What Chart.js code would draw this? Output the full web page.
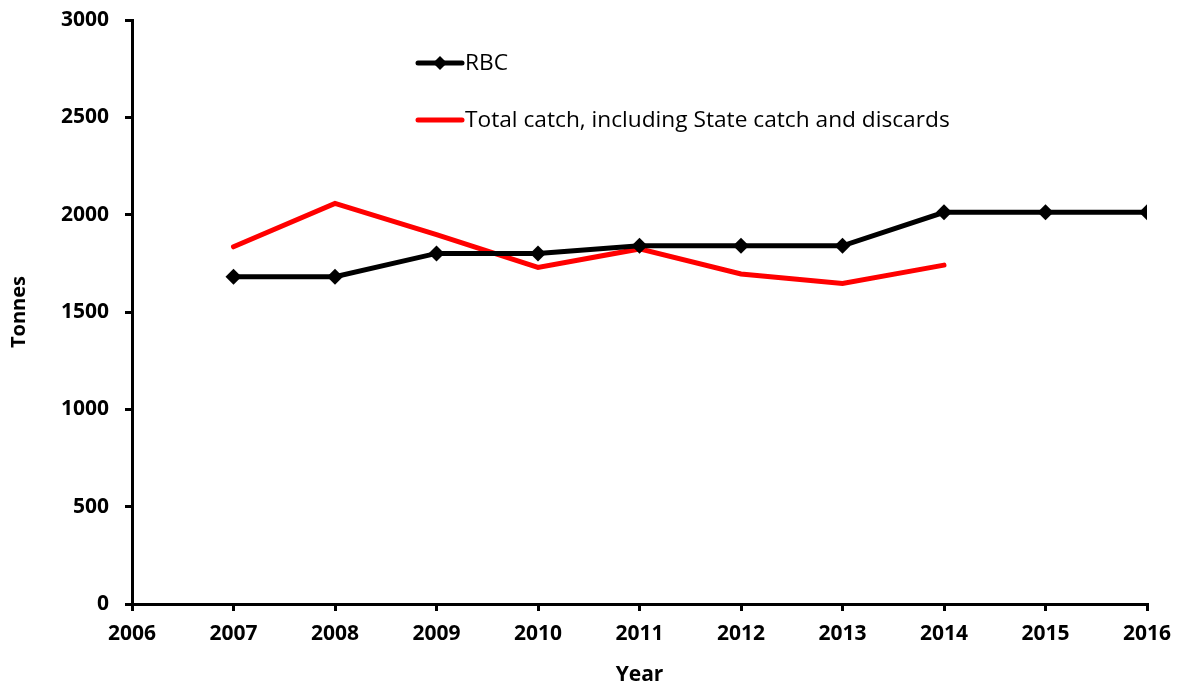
<!DOCTYPE html>
<html>
<head>
<meta charset="utf-8">
<script src="https://cdn.jsdelivr.net/npm/chart.js@4"></script>
<style>
  html, body { margin: 0; padding: 0; background: #fff; }
  #wrap { width: 1182px; height: 688px; position: relative; }
</style>
</head>
<body>
<div id="wrap"><canvas id="chart"></canvas></div>
<script>
// values
const rbcYears = [2007, 2008, 2009, 2010, 2011, 2012, 2013, 2014, 2015, 2016];
const rbcValues = [1681, 1681, 1801, 1801, 1840, 1840, 1840, 2012, 2012, 2012];
const catchYears = [2007, 2008, 2009, 2010, 2011, 2012, 2013, 2014];
const catchValues = [1835, 2058, 1897, 1729, 1824, 1695, 1647, 1741];
const seriesLabels = ['RBC', 'Total catch, including State catch and discards'];

const font = "'Open Sans', sans-serif";

// legend drawn inside the plot, like the original
const innerLegend = {
    id: 'innerLegend',
    afterDraw(chart) {
        const ctx = chart.ctx;
        const x0 = 418, x1 = 462;
        const rows = [63, 120];
        ctx.save();
        chart.data.datasets.forEach((ds, i) => {
            const y = rows[i];
            ctx.strokeStyle = ds.borderColor;
            ctx.lineWidth = 5;
            ctx.lineCap = 'round';
            ctx.beginPath();
            ctx.moveTo(x0, y);
            ctx.lineTo(x1, y);
            ctx.stroke();
            if (ds.pointRadius > 0) {
                const r = 7;
                const cx = (x0 + x1) / 2;
                ctx.fillStyle = ds.borderColor;
                ctx.beginPath();
                ctx.moveTo(cx, y - r);
                ctx.lineTo(cx + r, y);
                ctx.lineTo(cx, y + r);
                ctx.lineTo(cx - r, y);
                ctx.closePath();
                ctx.fill();
            }
            ctx.fillStyle = '#000';
            ctx.font = '22.7px ' + font;
            ctx.textBaseline = 'middle';
            ctx.textAlign = 'left';
            ctx.fillText(ds.label, x1 + 3, y + 1);
        });
        ctx.restore();
    }
};

const config = {
    type: 'line',
    data: {
        datasets: [{
            label: seriesLabels[0],
            data: rbcYears.map((yr, i) => ({x: yr, y: rbcValues[i]})),
            borderColor: '#000000',
            backgroundColor: '#000000',
            borderWidth: 5,
            pointStyle: 'rectRot',
            pointRadius: 8,
            pointBorderWidth: 0,
            tension: 0
        }, {
            label: seriesLabels[1],
            data: catchYears.map((yr, i) => ({x: yr, y: catchValues[i]})),
            borderColor: '#ff0000',
            backgroundColor: '#ff0000',
            borderWidth: 5,
            borderCapStyle: 'round',
            borderJoinStyle: 'miter',
            pointRadius: 0,
            tension: 0
        }]
    },
    options: {
        responsive: true,
        maintainAspectRatio: false,
        animation: false,
        layout: { padding: { top: 20, right: 35, left: 0, bottom: 0 } },
        plugins: {
            legend: { display: false },
            tooltip: { enabled: false }
        },
        scales: {
            x: {
                type: 'linear',
                min: 2006,
                max: 2016,
                ticks: {
                    stepSize: 1,
                    color: '#000',
                    font: { family: font, size: 21, weight: 'bold' },
                    padding: 10,
                    maxRotation: 0,
                    callback: v => String(v)
                },
                grid: { display: true, drawOnChartArea: false, drawTicks: true, tickLength: 7, color: '#000', lineWidth: 3 },
                border: { display: true, color: '#000', width: 3 },
                title: {
                    display: true,
                    text: 'Year',
                    color: '#000',
                    font: { family: font, size: 21, weight: 'bold' },
                    padding: { top: 0, bottom: 0 }
                },
                afterFit: s => { s.height = 84; }
            },
            y: {
                min: 0,
                max: 3000,
                ticks: {
                    stepSize: 500,
                    color: '#000',
                    font: { family: font, size: 21, weight: 'bold' },
                    padding: 16,
                    callback: v => String(v)
                },
                grid: { display: true, drawOnChartArea: false, drawTicks: true, tickLength: 7, color: '#000', lineWidth: 3 },
                border: { display: true, color: '#000', width: 3 },
                title: {
                    display: true,
                    text: 'Tonnes',
                    color: '#000',
                    font: { family: font, size: 20, weight: 'bold' },
                    padding: { top: 7, bottom: 0 }
                },
                afterFit: s => { s.width = 132; s.paddingTop = 0; }
            }
        }
    },
    plugins: [innerLegend]
};

var chartElem = new Chart(document.getElementById('chart'), config);
</script>
</body>
</html>
